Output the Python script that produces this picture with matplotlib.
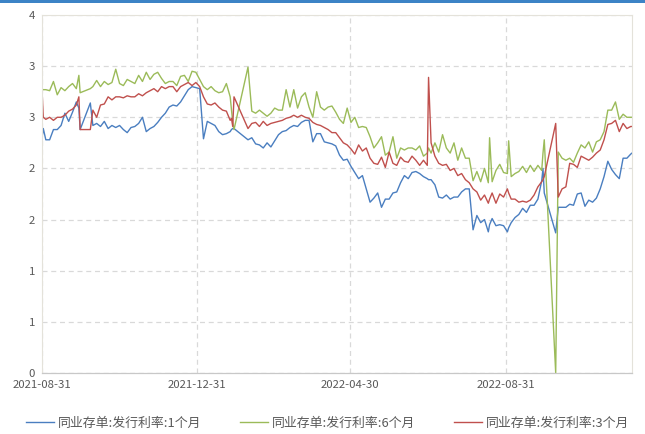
import matplotlib
matplotlib.use("Agg")
import matplotlib.pyplot as plt
import matplotlib.dates as mdates
from matplotlib.patches import Rectangle
import pandas as pd

plt.rcParams['font.family'] = ['Noto Sans CJK SC', 'DejaVu Sans']

dates = [
    "2021-08-31", "2021-09-01", "2021-09-03", "2021-09-06", "2021-09-09", "2021-09-12",
    "2021-09-15", "2021-09-18", "2021-09-21", "2021-09-24", "2021-09-27", "2021-09-29",
    "2021-09-30", "2021-10-08", "2021-10-10", "2021-10-13", "2021-10-16", "2021-10-19",
    "2021-10-22", "2021-10-25", "2021-10-28", "2021-10-31", "2021-11-03", "2021-11-06",
    "2021-11-09", "2021-11-12", "2021-11-15", "2021-11-18", "2021-11-21", "2021-11-24",
    "2021-11-27", "2021-11-30", "2021-12-03", "2021-12-06", "2021-12-09", "2021-12-12",
    "2021-12-15", "2021-12-18", "2021-12-21", "2021-12-24", "2021-12-27", "2021-12-30",
    "2022-01-02", "2022-01-05", "2022-01-08", "2022-01-11", "2022-01-14", "2022-01-17",
    "2022-01-20", "2022-01-23", "2022-01-26", "2022-01-27", "2022-01-28", "2022-01-29",
    "2022-02-09", "2022-02-12", "2022-02-15", "2022-02-18", "2022-02-21", "2022-02-24",
    "2022-02-27", "2022-03-02", "2022-03-05", "2022-03-08", "2022-03-11", "2022-03-14",
    "2022-03-17", "2022-03-20", "2022-03-23", "2022-03-26", "2022-03-29", "2022-04-01",
    "2022-04-04", "2022-04-07", "2022-04-10", "2022-04-13", "2022-04-16", "2022-04-19",
    "2022-04-22", "2022-04-25", "2022-04-28", "2022-05-01", "2022-05-04", "2022-05-07",
    "2022-05-10", "2022-05-13", "2022-05-16", "2022-05-19", "2022-05-22", "2022-05-25",
    "2022-05-28", "2022-05-31", "2022-06-03", "2022-06-06", "2022-06-09", "2022-06-12",
    "2022-06-15", "2022-06-18", "2022-06-21", "2022-06-24", "2022-06-27", "2022-06-30",
    "2022-07-01", "2022-07-03", "2022-07-06", "2022-07-09", "2022-07-12", "2022-07-15",
    "2022-07-18", "2022-07-21", "2022-07-24", "2022-07-27", "2022-07-30", "2022-08-02",
    "2022-08-05", "2022-08-08", "2022-08-11", "2022-08-14", "2022-08-17", "2022-08-18",
    "2022-08-20", "2022-08-23", "2022-08-26", "2022-08-29", "2022-09-01", "2022-09-02",
    "2022-09-04", "2022-09-07", "2022-09-10", "2022-09-13", "2022-09-16", "2022-09-19",
    "2022-09-22", "2022-09-25", "2022-09-28", "2022-09-29", "2022-09-30", "2022-10-09",
    "2022-10-11", "2022-10-14", "2022-10-17", "2022-10-20", "2022-10-23", "2022-10-26",
    "2022-10-29", "2022-11-01", "2022-11-04", "2022-11-07", "2022-11-10", "2022-11-13",
    "2022-11-16", "2022-11-19", "2022-11-22", "2022-11-25", "2022-11-28", "2022-12-01",
    "2022-12-04", "2022-12-07", "2022-12-08",
]

rate_1m = [
    2.30, 2.39, 2.28, 2.28, 2.38, 2.38, 2.42, 2.54, 2.46, 2.55, 2.65, 2.59,
    2.38, 2.64, 2.42, 2.44, 2.41, 2.46, 2.39, 2.42, 2.40, 2.42, 2.38, 2.35,
    2.40, 2.41, 2.44, 2.50, 2.36, 2.39, 2.41, 2.45, 2.50, 2.54, 2.60, 2.62,
    2.61, 2.65, 2.71, 2.77, 2.80, 2.79, 2.78, 2.29, 2.46, 2.44, 2.42, 2.36,
    2.33, 2.34, 2.36, 2.38, 2.39, 2.39, 2.28, 2.30, 2.24, 2.23, 2.20, 2.25,
    2.21, 2.27, 2.33, 2.36, 2.37, 2.40, 2.42, 2.41, 2.45, 2.47, 2.47, 2.26,
    2.34, 2.34, 2.26, 2.25, 2.24, 2.22, 2.13, 2.08, 2.09, 2.02, 1.96, 1.90,
    1.93, 1.80, 1.67, 1.71, 1.76, 1.62, 1.70, 1.70, 1.76, 1.77, 1.86, 1.93,
    1.90, 1.96, 1.97, 1.95, 1.92, 1.90, 1.89, 1.89, 1.84, 1.72, 1.71, 1.74,
    1.70, 1.72, 1.72, 1.77, 1.80, 1.80, 1.40, 1.54, 1.47, 1.50, 1.38, 1.45,
    1.51, 1.44, 1.45, 1.44, 1.38, 1.42, 1.47, 1.52, 1.55, 1.61, 1.57, 1.64,
    1.64, 1.70, 1.88, 2.00, 1.76, 1.37, 1.62, 1.62, 1.62, 1.65, 1.64, 1.75,
    1.76, 1.63, 1.69, 1.67, 1.71, 1.80, 1.92, 2.07, 1.99, 1.94, 1.90, 2.10,
    2.10, 2.14, 2.15,
]

rate_3m = [
    2.77, 2.50, 2.48, 2.50, 2.47, 2.50, 2.50, 2.52, 2.56, 2.58, 2.62, 2.70,
    2.38, 2.38, 2.57, 2.50, 2.62, 2.63, 2.70, 2.67, 2.70, 2.70, 2.69, 2.71,
    2.70, 2.70, 2.73, 2.71, 2.74, 2.76, 2.78, 2.75, 2.80, 2.78, 2.80, 2.80,
    2.75, 2.80, 2.82, 2.84, 2.81, 2.84, 2.80, 2.70, 2.63, 2.62, 2.64, 2.60,
    2.57, 2.56, 2.47, 2.49, 2.41, 2.70, 2.39, 2.44, 2.45, 2.41, 2.46, 2.42,
    2.44, 2.45, 2.46, 2.47, 2.49, 2.50, 2.52, 2.50, 2.52, 2.50, 2.49, 2.45,
    2.43, 2.42, 2.40, 2.38, 2.35, 2.35, 2.30, 2.25, 2.23, 2.19, 2.14, 2.23,
    2.17, 2.20, 2.10, 2.05, 2.04, 2.11, 2.01, 2.16, 2.05, 2.03, 2.11, 2.07,
    2.06, 2.12, 2.08, 2.03, 2.08, 2.03, 2.89, 2.25, 2.12, 2.05, 2.03, 2.04,
    1.98, 2.00, 1.93, 1.95, 1.89, 1.86, 1.80, 1.77, 1.69, 1.74, 1.66, 1.70,
    1.76, 1.66, 1.75, 1.72, 1.80, 1.76, 1.70, 1.70, 1.67, 1.68, 1.67, 1.69,
    1.74, 1.82, 1.87, 1.89, 1.92, 2.44, 1.72, 1.80, 1.82, 2.05, 2.04, 2.01,
    2.12, 2.10, 2.08, 2.11, 2.15, 2.18, 2.28, 2.43, 2.44, 2.47, 2.36, 2.44,
    2.39, 2.41, 2.41,
]

rate_6m = [
    2.77, 2.77, 2.77, 2.76, 2.85, 2.72, 2.79, 2.76, 2.80, 2.83, 2.78, 2.91,
    2.74, 2.78, 2.80, 2.86, 2.80, 2.85, 2.82, 2.84, 2.97, 2.83, 2.81, 2.87,
    2.85, 2.83, 2.91, 2.85, 2.94, 2.87, 2.92, 2.94, 2.88, 2.83, 2.85, 2.85,
    2.81, 2.90, 2.91, 2.85, 2.95, 2.94, 2.87, 2.80, 2.77, 2.80, 2.76, 2.74,
    2.75, 2.83, 2.70, 2.57, 2.45, 2.38, 2.99, 2.56, 2.54, 2.57, 2.54, 2.51,
    2.54, 2.59, 2.57, 2.57, 2.77, 2.60, 2.77, 2.59, 2.70, 2.74, 2.60, 2.50,
    2.75, 2.60, 2.57, 2.60, 2.61, 2.55, 2.48, 2.44, 2.59, 2.45, 2.50, 2.40,
    2.41, 2.40, 2.31, 2.20, 2.25, 2.31, 2.13, 2.16, 2.31, 2.10, 2.20, 2.18,
    2.20, 2.20, 2.18, 2.22, 2.12, 2.15, 2.20, 2.15, 2.25, 2.16, 2.33, 2.20,
    2.15, 2.25, 2.08, 2.20, 2.10, 2.10, 1.88, 1.97, 1.87, 2.00, 1.86, 2.30,
    1.87, 1.98, 2.04, 1.96, 1.95, 2.27, 1.92, 1.95, 1.97, 2.02, 1.96, 2.03,
    1.97, 2.03, 1.98, 2.15, 2.28, 0.00, 2.16, 2.10, 2.08, 2.10, 2.06, 2.15,
    2.23, 2.20, 2.26, 2.16, 2.26, 2.28, 2.36, 2.57, 2.57, 2.65, 2.48, 2.53,
    2.50, 2.50, 2.50,
]

series_names = ["同业存单:发行利率:1个月", "同业存单:发行利率:6个月", "同业存单:发行利率:3个月"]
series_colors = ["#4A7EC0", "#9BBB59", "#C0504D"]

y_ticks = [0, 0.5, 1.0, 1.5, 2.0, 2.5, 3.0, 3.5]
y_tick_labels = ["0", "1", "1", "2", "2", "3", "3", "4"]
x_ticks = ["2021-08-31", "2021-12-31", "2022-04-30", "2022-08-31"]

x = pd.to_datetime(dates)

fig = plt.figure(figsize=(6.45, 4.34), dpi=100)
ax = fig.add_axes([42 / 645, 1 - 373 / 434, (632 - 42) / 645, (373 - 15) / 434])

for vals, name, col in zip([rate_1m, rate_6m, rate_3m], series_names, series_colors):
    ax.plot(x, vals, color=col, lw=1.0, label=name)

ax.set_ylim(0, 3.5)
ax.set_yticks(y_ticks)
ax.set_yticklabels(y_tick_labels)
ax.set_xlim(x[0], x[-1])
ax.set_xticks(pd.to_datetime(x_ticks))
ax.xaxis.set_major_formatter(mdates.DateFormatter("%Y-%m-%d"))

ax.grid(True, color="#d9d9d9", ls=(0, (4, 3)), lw=0.9)
ax.set_axisbelow(True)
for s in ["top", "right", "left"]:
    ax.spines[s].set_color("#e4e2da")
    ax.spines[s].set_linewidth(0.8)
ax.spines["bottom"].set_color("#c8c8c8")
ax.spines["bottom"].set_linewidth(0.9)
ax.tick_params(length=0, labelsize=8.2, colors="#595959", pad=5)

leg = fig.legend(loc="center", bbox_to_anchor=(0.508, 1 - 423 / 434), ncol=3,
                 frameon=False, fontsize=9.3, handlelength=2.2, handletextpad=0.3,
                 columnspacing=2.95, labelcolor="#595959")

fig.add_artist(Rectangle((0, 1 - 3 / 434), 1, 3 / 434, transform=fig.transFigure,
                         color="#3C83C6", lw=0))

fig.savefig("out.png", dpi=100)
